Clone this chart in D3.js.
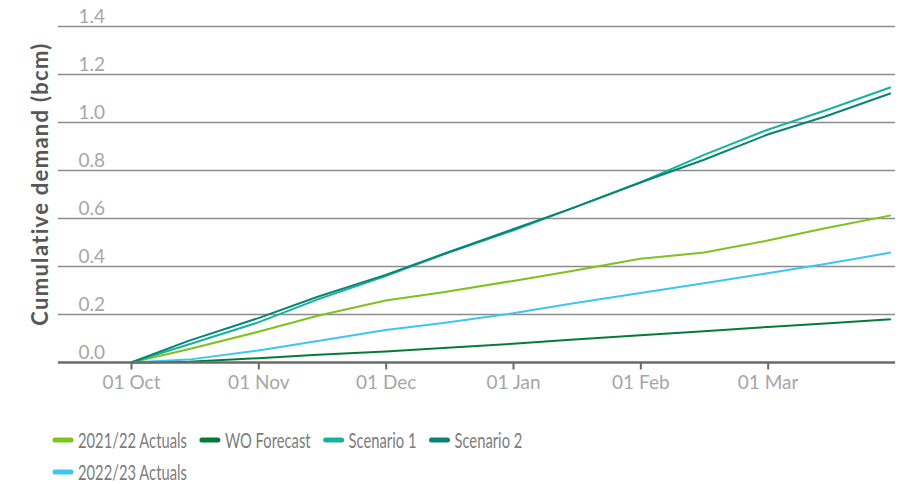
<!DOCTYPE html>
<html>
<head>
<meta charset="utf-8">
<script src="https://cdn.jsdelivr.net/npm/d3@7"></script>
<style>
  body { margin: 0; background: #fff; }
  svg { display: block; }
  text { font-family: Lato, "Open Sans", sans-serif; }
</style>
</head>
<body>
<svg id="chart" width="911" height="484"></svg>
<script>
// Gas year sample dates (1st and 15th of each month, plus season end)
const dates = ["2022-10-01", "2022-10-15", "2022-11-01", "2022-11-15", "2022-12-01", "2022-12-15",
               "2023-01-01", "2023-01-15", "2023-02-01", "2023-02-15", "2023-03-01", "2023-03-15", "2023-03-31"];

// Cumulative demand, bcm
const actuals2122 = [0, 0.055, 0.128, 0.195, 0.258, 0.293, 0.340, 0.380, 0.432, 0.458, 0.508, 0.559, 0.613];
const woForecast  = [0, 0.003, 0.018, 0.032, 0.046, 0.060, 0.078, 0.095, 0.114, 0.130, 0.148, 0.163, 0.180];
const scenario1   = [0, 0.075, 0.167, 0.263, 0.360, 0.450, 0.550, 0.640, 0.750, 0.865, 0.970, 1.050, 1.147];
const scenario2   = [0, 0.090, 0.185, 0.274, 0.365, 0.452, 0.555, 0.640, 0.750, 0.845, 0.950, 1.025, 1.122];
const actuals2223 = [0, 0.012, 0.050, 0.090, 0.135, 0.165, 0.205, 0.245, 0.290, 0.330, 0.372, 0.410, 0.458];

const seriesNames  = ["2021/22 Actuals", "WO Forecast", "Scenario 1", "Scenario 2", "2022/23 Actuals"];
const seriesColors = ["#7dc21e", "#067a3a", "#16b2a0", "#0c8276", "#3cc6f0"];
const seriesValues = [actuals2122, woForecast, scenario1, scenario2, actuals2223];

const yTicks = [0, 0.2, 0.4, 0.6, 0.8, 1.0, 1.2, 1.4];
const monthStarts = ["2022-10-01", "2022-11-01", "2022-12-01", "2023-01-01", "2023-02-01", "2023-03-01", "2023-04-01"];
const monthLabels = ["01 Oct", "01 Nov", "01 Dec", "01 Jan", "01 Feb", "01 Mar"];
const yTitle = "Cumulative demand (bcm)";

const parse = d3.utcParse("%Y-%m-%d");
const svg = d3.select("#chart");

const plot = { left: 58, right: 895, top: 26.5, bottom: 362.5, start: 131 };

// Months take equal widths on the axis
const monthDates = monthStarts.map(parse);
const monthWidth = (plot.right - plot.start) / (monthDates.length - 1);
const x = d3.scaleUtc()
  .domain(monthDates)
  .range(monthDates.map((d, i) => plot.start + i * monthWidth));

const y = d3.scaleLinear().domain([0, 1.4]).range([plot.bottom, plot.top]);

// Horizontal gridlines with labels sitting above them
const grid = svg.append("g");
grid.selectAll("line")
  .data(yTicks.filter(t => t > 0))
  .join("line")
  .attr("x1", plot.left).attr("x2", plot.right)
  .attr("y1", d => y(d)).attr("y2", d => y(d))
  .attr("stroke", "#8c8c8c").attr("stroke-width", 1.3);

grid.selectAll("text")
  .data(yTicks)
  .join("text")
  .attr("x", 105)
  .attr("y", d => y(d) - 4)
  .attr("text-anchor", "end")
  .attr("fill", "#a6a6a6")
  .attr("font-size", 19)
  .text(d => d3.format(".1f")(d));

// Series lines
const dateValues = dates.map(parse);
const line = d3.line()
  .x((d, i) => x(dateValues[i]))
  .y(d => y(d));

svg.append("g")
  .selectAll("path")
  .data(seriesValues)
  .join("path")
  .attr("fill", "none")
  .attr("stroke", (d, i) => seriesColors[i])
  .attr("stroke-width", 2)
  .attr("stroke-linejoin", "round")
  .attr("d", line);

// Bottom axis
const xAxis = d3.axisBottom(x)
  .tickValues(monthDates.slice(0, monthLabels.length))
  .tickFormat((d, i) => monthLabels[i])
  .tickSizeInner(7)
  .tickSizeOuter(0);

const axisG = svg.append("g")
  .attr("transform", `translate(0,${plot.bottom})`)
  .call(xAxis);
axisG.select(".domain").remove();
axisG.insert("line", ":first-child")
  .attr("x1", plot.left).attr("x2", plot.right)
  .attr("stroke", "#6a6a6a").attr("stroke-width", 2.5);
axisG.selectAll(".tick line").attr("stroke", "#6a6a6a").attr("stroke-width", 2);
axisG.selectAll(".tick text")
  .attr("fill", "#a6a6a6")
  .attr("font-size", 19)
  .attr("font-family", "Lato, sans-serif")
  .attr("y", 13);

// Y-axis title
svg.append("text")
  .attr("transform", "translate(48,184) rotate(-90)")
  .attr("text-anchor", "middle")
  .attr("font-family", "'Open Sans', sans-serif")
  .attr("font-weight", "bold")
  .attr("font-size", 22)
  .attr("letter-spacing", 1.3)
  .attr("fill", "#575757")
  .text(yTitle);

// Legend with narrow labels, wrapping onto a second row
const legend = svg.append("g");
const squeeze = 0.72;
let lx = 53, ly = 440;
seriesNames.forEach((name, i) => {
  const item = legend.append("g");
  item.append("line")
    .attr("x1", 2).attr("x2", 18)
    .attr("stroke", seriesColors[i])
    .attr("stroke-width", 5)
    .attr("stroke-linecap", "round");
  const t = item.append("text")
    .attr("transform", `translate(25,7.5) scale(${squeeze},1)`)
    .attr("fill", "#7c7c7c")
    .attr("font-size", 20.5)
    .text(name);
  const w = 25 + t.node().getComputedTextLength() * squeeze + 13;
  if (lx + w > 560) { lx = 53; ly += 32; }
  item.attr("transform", `translate(${lx},${ly})`);
  lx += w;
});
</script>
</body>
</html>
